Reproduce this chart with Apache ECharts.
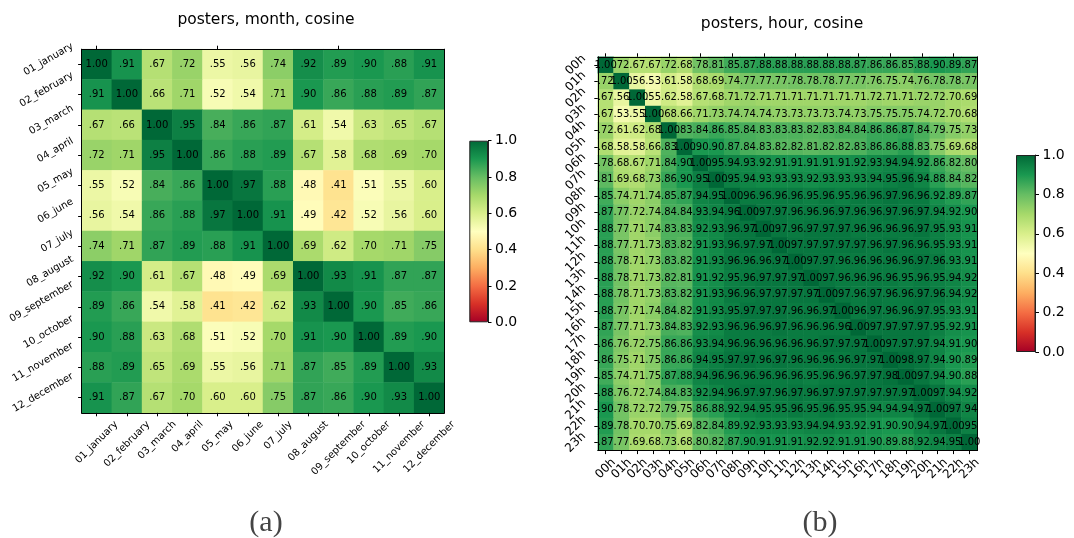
<!DOCTYPE html>
<html>
<head>
<meta charset="utf-8">
<script src="https://cdn.jsdelivr.net/npm/echarts@6/dist/echarts.min.js"></script>
<style>
  html, body { margin: 0; padding: 0; background: #fff; }
  #chart { width: 1074px; height: 538px; }
</style>
</head>
<body>
<div id="chart"></div>
<script>
// Cosine similarity between posting profiles, by month and by hour of day.
const months = ['01_january', '02_february', '03_march', '04_april', '05_may', '06_june',
  '07_july', '08_august', '09_september', '10_october', '11_november', '12_december'];

const monthValues = [
  [1.00, .91, .67, .72, .55, .56, .74, .92, .89, .90, .88, .91],
  [.91, 1.00, .66, .71, .52, .54, .71, .90, .86, .88, .89, .87],
  [.67, .66, 1.00, .95, .84, .86, .87, .61, .54, .63, .65, .67],
  [.72, .71, .95, 1.00, .86, .88, .89, .67, .58, .68, .69, .70],
  [.55, .52, .84, .86, 1.00, .97, .88, .48, .41, .51, .55, .60],
  [.56, .54, .86, .88, .97, 1.00, .91, .49, .42, .52, .56, .60],
  [.74, .71, .87, .89, .88, .91, 1.00, .69, .62, .70, .71, .75],
  [.92, .90, .61, .67, .48, .49, .69, 1.00, .93, .91, .87, .87],
  [.89, .86, .54, .58, .41, .42, .62, .93, 1.00, .90, .85, .86],
  [.90, .88, .63, .68, .51, .52, .70, .91, .90, 1.00, .89, .90],
  [.88, .89, .65, .69, .55, .56, .71, .87, .85, .89, 1.00, .93],
  [.91, .87, .67, .70, .60, .60, .75, .87, .86, .90, .93, 1.00]
];

const hours = ['00h', '01h', '02h', '03h', '04h', '05h', '06h', '07h', '08h', '09h', '10h', '11h',
  '12h', '13h', '14h', '15h', '16h', '17h', '18h', '19h', '20h', '21h', '22h', '23h'];

const hourValues = [
  [1.00, .72, .67, .67, .72, .68, .78, .81, .85, .87, .88, .88, .88, .88, .88, .88, .87, .86, .86, .85, .88, .90, .89, .87],
  [.72, 1.00, .56, .53, .61, .58, .68, .69, .74, .77, .77, .77, .78, .78, .78, .77, .77, .76, .75, .74, .76, .78, .78, .77],
  [.67, .56, 1.00, .55, .62, .58, .67, .68, .71, .72, .71, .71, .71, .71, .71, .71, .71, .72, .71, .71, .72, .72, .70, .69],
  [.67, .53, .55, 1.00, .68, .66, .71, .73, .74, .74, .74, .73, .73, .73, .73, .74, .73, .75, .75, .75, .74, .72, .70, .68],
  [.72, .61, .62, .68, 1.00, .83, .84, .86, .85, .84, .83, .83, .83, .82, .83, .84, .84, .86, .86, .87, .84, .79, .75, .73],
  [.68, .58, .58, .66, .83, 1.00, .90, .90, .87, .84, .83, .82, .82, .81, .82, .82, .83, .86, .86, .88, .83, .75, .69, .68],
  [.78, .68, .67, .71, .84, .90, 1.00, .95, .94, .93, .92, .91, .91, .91, .91, .91, .92, .93, .94, .94, .92, .86, .82, .80],
  [.81, .69, .68, .73, .86, .90, .95, 1.00, .95, .94, .93, .93, .93, .92, .93, .93, .93, .94, .95, .96, .94, .88, .84, .82],
  [.85, .74, .71, .74, .85, .87, .94, .95, 1.00, .96, .96, .96, .96, .95, .96, .95, .96, .96, .97, .96, .96, .92, .89, .87],
  [.87, .77, .72, .74, .84, .84, .93, .94, .96, 1.00, .97, .97, .96, .96, .96, .97, .96, .96, .97, .96, .97, .94, .92, .90],
  [.88, .77, .71, .74, .83, .83, .92, .93, .96, .97, 1.00, .97, .96, .97, .97, .97, .96, .96, .96, .96, .97, .95, .93, .91],
  [.88, .77, .71, .73, .83, .82, .91, .93, .96, .97, .97, 1.00, .97, .97, .97, .97, .97, .96, .97, .96, .96, .95, .93, .91],
  [.88, .78, .71, .73, .83, .82, .91, .93, .96, .96, .96, .97, 1.00, .97, .97, .96, .96, .96, .96, .96, .97, .96, .93, .91],
  [.88, .78, .71, .73, .82, .81, .91, .92, .95, .96, .97, .97, .97, 1.00, .97, .96, .96, .96, .96, .95, .96, .95, .94, .92],
  [.88, .78, .71, .73, .83, .82, .91, .93, .96, .96, .97, .97, .97, .97, 1.00, .97, .96, .97, .96, .96, .97, .96, .94, .92],
  [.88, .77, .71, .74, .84, .82, .91, .93, .95, .97, .97, .97, .96, .96, .97, 1.00, .96, .97, .96, .96, .97, .95, .93, .91],
  [.87, .77, .71, .73, .84, .83, .92, .93, .96, .96, .96, .97, .96, .96, .96, .96, 1.00, .97, .97, .97, .97, .95, .92, .91],
  [.86, .76, .72, .75, .86, .86, .93, .94, .96, .96, .96, .96, .96, .96, .97, .97, .97, 1.00, .97, .97, .97, .94, .91, .90],
  [.86, .75, .71, .75, .86, .86, .94, .95, .97, .97, .96, .97, .96, .96, .96, .96, .97, .97, 1.00, .98, .97, .94, .90, .89],
  [.85, .74, .71, .75, .87, .88, .94, .96, .96, .96, .96, .96, .96, .95, .96, .96, .97, .97, .98, 1.00, .97, .94, .90, .88],
  [.88, .76, .72, .74, .84, .83, .92, .94, .96, .97, .97, .96, .97, .96, .97, .97, .97, .97, .97, .97, 1.00, .97, .94, .92],
  [.90, .78, .72, .72, .79, .75, .86, .88, .92, .94, .95, .95, .96, .95, .96, .95, .95, .94, .94, .94, .97, 1.00, .97, .94],
  [.89, .78, .70, .70, .75, .69, .82, .84, .89, .92, .93, .93, .93, .94, .94, .93, .92, .91, .90, .90, .94, .97, 1.00, .95],
  [.87, .77, .69, .68, .73, .68, .80, .82, .87, .90, .91, .91, .91, .92, .92, .91, .91, .90, .89, .88, .92, .94, .95, 1.00]
];

// Colour bar range and its ticks
const colorbarMin = 0;
const colorbarMax = 1;
const colorbarStep = 0.2;

// RdYlGn diverging palette, low to high
const rdylgn = ['#a50026', '#d73027', '#f46d43', '#fdae61', '#fee08b', '#ffffbf',
  '#d9ef8b', '#a6d96a', '#66bd63', '#1a9850', '#006837'];

const FONT = 'DejaVu Sans';

function toCells(matrix) {
  const out = [];
  matrix.forEach((row, i) => row.forEach((v, j) => out.push([j, i, v])));
  return out;
}

function cellText(p) {
  const v = p.value[2];
  return v >= 1 ? '1.00' : '.' + String(Math.round(v * 100)).padStart(2, '0');
}

// Rotated tick labels whose bounding box is centred on the tick
// (spacer tokens move the rotation anchor inside the text block).
// lift: extra upward shift (px) applied to left-side labels.
const measureCtx = document.createElement('canvas').getContext('2d');
function rotatedLabels(names, fontSize, deg, side, margin, lift) {
  const th = deg * Math.PI / 180, s = Math.sin(th), c = Math.cos(th);
  const dy = lift || 0;
  measureCtx.font = fontSize + 'px "' + FONT + '"';
  const rich = {
    t: { fontSize: fontSize, fontFamily: FONT, color: '#000',
         verticalAlign: side === 'left' ? 'top' : 'bottom' }
  };
  names.forEach((n, i) => {
    const L = measureCtx.measureText(n).width;
    rich['s' + i] = side === 'left'
      ? { width: Math.max(1, L * c * c - 2 * dy * s), lineHeight: fontSize + L * s * c + 2 * dy * c, fontSize: 1 }
      : { width: L * s * s, lineHeight: fontSize + L * s * c, fontSize: 1 };
  });
  return {
    show: true, interval: 0, rotate: deg, align: 'center', verticalAlign: 'middle',
    margin: margin,
    formatter: (v, i) => '{t|' + v + '}{s' + i + '|\u00a0}',
    rich: rich
  };
}

const tickStyle = { show: true, length: 3.5, alignWithLabel: true, lineStyle: { color: '#000', width: 1 } };
const lineStyle = { show: true, lineStyle: { color: '#000', width: 1 } };

function heatmapAxes(gi, cats, lab) {
  return {
    x: [
      { type: 'category', gridIndex: gi, data: cats, position: 'bottom', z: 10,
        axisLine: lineStyle, axisTick: tickStyle,
        axisLabel: rotatedLabels(cats, lab.size, lab.xRotate, 'bottom', lab.xMargin, 0), splitLine: { show: false } },
      { type: 'category', gridIndex: gi, data: cats, position: 'top', z: 10,
        axisLine: lineStyle, axisTick: tickStyle, axisLabel: { show: false }, splitLine: { show: false } }
    ],
    y: [
      { type: 'category', gridIndex: gi, data: cats, position: 'left', inverse: true, z: 10,
        axisLine: lineStyle, axisTick: tickStyle,
        axisLabel: rotatedLabels(cats, lab.size, lab.yRotate, 'left', lab.yMargin, lab.yLift), splitLine: { show: false } },
      { type: 'category', gridIndex: gi, data: cats, position: 'right', inverse: true, z: 10,
        axisLine: lineStyle, axisTick: { show: false }, axisLabel: { show: false }, splitLine: { show: false } }
    ]
  };
}

function colorbarAxes(gi) {
  return {
    x: { type: 'category', gridIndex: gi, data: ['cb'], show: false },
    y: { type: 'value', gridIndex: gi, position: 'right', min: colorbarMin, max: colorbarMax,
         interval: colorbarStep, z: 10,
         axisLine: { show: true, lineStyle: { color: '#222', width: 1 } },
         axisTick: { show: true, length: 3.5, lineStyle: { color: '#000' } },
         axisLabel: { show: true, fontSize: 14, fontFamily: FONT, color: '#000', margin: 7,
                      formatter: v => v.toFixed(1) },
         splitLine: { show: false } }
  };
}

const monthAxes = heatmapAxes(0, months, { size: 10, xRotate: 45, yRotate: 30, xMargin: 10, yMargin: 9, yLift: 5 });
const hourAxes = heatmapAxes(2, hours, { size: 12, xRotate: 45, yRotate: 45, xMargin: 10, yMargin: 14, yLift: 0 });
const cbLeft = colorbarAxes(1);
const cbRight = colorbarAxes(3);

const gradientStops = rdylgn.map((col, i) => ({ offset: i / (rdylgn.length - 1), color: col }));

function colorbarSeries(xi, yi) {
  return {
    type: 'bar', xAxisIndex: xi, yAxisIndex: yi, data: [colorbarMax], barWidth: '100%',
    silent: true,
    itemStyle: {
      color: new echarts.graphic.LinearGradient(0, 1, 0, 0, gradientStops),
      borderColor: '#222', borderWidth: 1
    }
  };
}

function heatmapSeries(xi, yi, matrix) {
  return {
    type: 'heatmap', xAxisIndex: xi, yAxisIndex: yi, data: toCells(matrix),
    progressive: 0, silent: true,
    label: { show: true, formatter: cellText, fontSize: 10, fontFamily: FONT, color: '#000' },
    emphasis: { disabled: true }
  };
}

const chart = echarts.init(document.getElementById('chart'), null, { renderer: 'canvas' });
chart.setOption({
  animation: false,
  backgroundColor: '#fff',
  textStyle: { fontFamily: FONT },
  title: [
    { text: 'posters, month, cosine', left: 261, top: 7, textAlign: 'center',
      textStyle: { fontSize: 15.5, fontWeight: 'normal', color: '#000', fontFamily: FONT } },
    { text: 'posters, hour, cosine', left: 777, top: 11, textAlign: 'center',
      textStyle: { fontSize: 15.5, fontWeight: 'normal', color: '#000', fontFamily: FONT } },
    { text: '(a)', left: 261, top: 503, textAlign: 'center',
      textStyle: { fontSize: 30, fontWeight: 'normal', color: '#444', fontFamily: 'Liberation Serif' } },
    { text: '(b)', left: 815, top: 503, textAlign: 'center',
      textStyle: { fontSize: 30, fontWeight: 'normal', color: '#444', fontFamily: 'Liberation Serif' } }
  ],
  grid: [
    { left: 81.6, top: 49.2, width: 362.8, height: 363.6 },
    { left: 469.3, top: 140.7, width: 18.7, height: 181.6 },
    { left: 597.8, top: 56.8, width: 379.4, height: 393.8 },
    { left: 1016, top: 155, width: 19.5, height: 197 }
  ],
  xAxis: [monthAxes.x[0], monthAxes.x[1], cbLeft.x, hourAxes.x[0], hourAxes.x[1], cbRight.x],
  yAxis: [monthAxes.y[0], monthAxes.y[1], cbLeft.y, hourAxes.y[0], hourAxes.y[1], cbRight.y],
  visualMap: {
    type: 'continuous', show: false, min: colorbarMin, max: colorbarMax,
    seriesIndex: [0, 1], dimension: 2,
    inRange: { color: rdylgn }
  },
  series: [
    heatmapSeries(0, 0, monthValues),
    heatmapSeries(3, 3, hourValues),
    colorbarSeries(2, 2),
    colorbarSeries(5, 5)
  ]
});
</script>
</body>
</html>
